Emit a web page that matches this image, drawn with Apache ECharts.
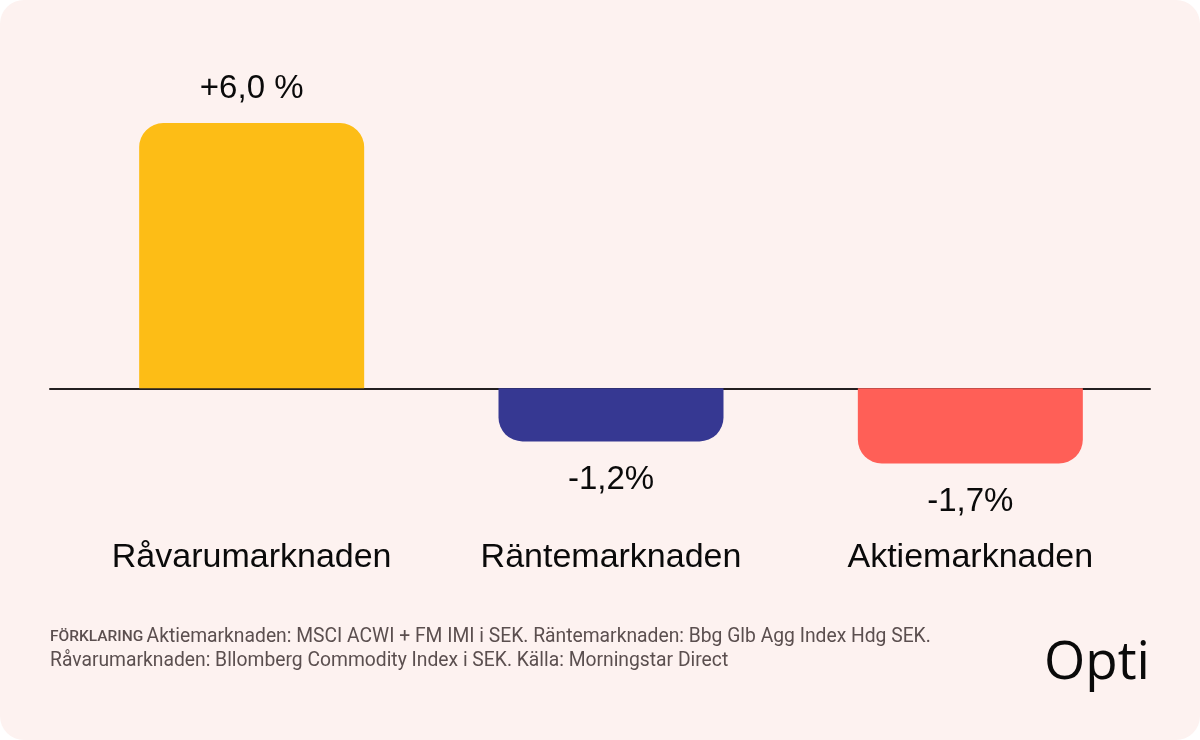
<!DOCTYPE html>
<html><head><meta charset="utf-8">
<script src="https://cdn.jsdelivr.net/npm/echarts@6/dist/echarts.min.js"></script>
<style>html,body{margin:0;padding:0;background:#fff}#c{width:1200px;height:740px}</style>
</head><body><div id="c"></div>
<script>
var categories = ['Råvarumarknaden', 'Räntemarknaden', 'Aktiemarknaden'];
var values = [6.0, -1.2, -1.7];
var valueLabels = ['+6,0 %', '-1,2%', '-1,7%'];
var colors = ['#FDBD16', '#363892', '#FF5F57'];
var footerTitle = 'FÖRKLARING';
var footerLine1 = 'Aktiemarknaden: MSCI ACWI + FM IMI i SEK. Räntemarknaden: Bbg Glb Agg Index Hdg SEK.';
var footerLine2 = 'Råvarumarknaden: Bllomberg Commodity Index i SEK. Källa: Morningstar Direct';
var brand = 'Opti';

var chart = echarts.init(document.getElementById('c'));
var R = 24;
var data = values.map(function (v, i) {
  return {
    value: v,
    itemStyle: { color: colors[i], borderRadius: v >= 0 ? [R, R, 0, 0] : [0, 0, R, R] },
    label: { position: v >= 0 ? 'top' : 'bottom', distance: v >= 0 ? 18 : 22, formatter: valueLabels[i] }
  };
});
var yMin = -3, yMax = 6.5;
chart.setOption({
  backgroundColor: '#ffffff',
  animation: false,
  graphic: [
    { type: 'rect', z: -10, shape: { x: 0, y: 0, width: 1200, height: 740, r: 24 }, style: { fill: '#FDF2F0' } },
    { type: 'text', left: 50, top: 628, style: {
        text: '{t|' + footerTitle + '} {n|' + footerLine1 + '}\n{n|' + footerLine2 + '}',
        rich: {
          t: { fontFamily: 'Roboto', fontSize: 15.5, fill: '#5b4f4f', fontWeight: 500 },
          n: { fontFamily: 'Roboto', fontSize: 19.3, fill: '#5b4f4f', lineHeight: 24 }
        } } },
    { type: 'text', right: 50, top: 637, style: { text: brand, fontFamily: 'Open Sans', fontSize: 53, fill: '#0a0a0a' } }
  ],
  grid: [
    { left: 72, right: 50, top: 101, height: 420 },
    { left: 50, right: 50, top: 101, height: 420 }
  ],
  xAxis: [
    { type: 'category', gridIndex: 0, data: categories, position: 'bottom',
      axisLine: { show: false, onZero: false }, axisTick: { show: false },
      axisLabel: { interval: 0, hideOverlap: false, margin: 20, fontFamily: 'Liberation Sans', fontSize: 34, color: '#0a0a0a' } },
    { type: 'category', gridIndex: 1, data: categories,
      axisLine: { show: true, onZero: true, lineStyle: { color: '#231f20', width: 2 } },
      axisTick: { show: false }, axisLabel: { show: false } }
  ],
  yAxis: [
    { type: 'value', gridIndex: 0, min: yMin, max: yMax, show: false, splitLine: { show: false } },
    { type: 'value', gridIndex: 1, min: yMin, max: yMax, show: false, splitLine: { show: false } }
  ],
  series: [
    { type: 'bar', xAxisIndex: 0, yAxisIndex: 0, data: data, barWidth: 225, z: 2,
      label: { show: true, fontFamily: 'Liberation Sans', fontSize: 33, color: '#0a0a0a' } },
    { type: 'line', xAxisIndex: 1, yAxisIndex: 1, data: [], silent: true }
  ]
});
</script></body></html>
